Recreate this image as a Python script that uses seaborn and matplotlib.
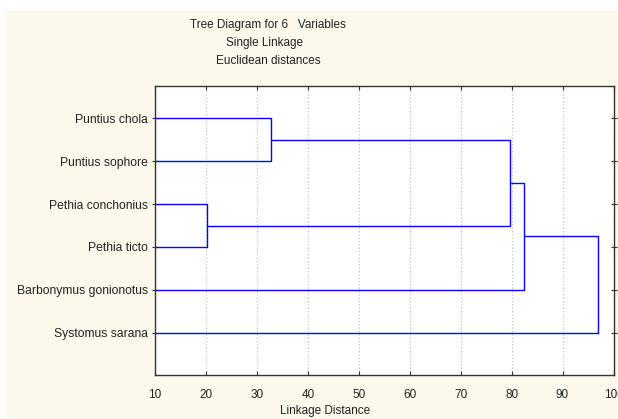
import numpy as np
import pandas as pd
import matplotlib
matplotlib.use("Agg")
import matplotlib.pyplot as plt
import seaborn as sns

# ---- data ----
labels = ["Puntius chola", "Puntius sophore", "Pethia conchonius",
          "Pethia ticto", "Barbonymus gonionotus", "Systomus sarana"]
merge_left = [0, 2, 6, 8, 9]      # cluster ids (leaves 0-5, new clusters 6..)
merge_right = [1, 3, 7, 4, 5]
merge_dist = [32.8, 20.3, 79.7, 82.4, 96.9]
x_ticks = [10, 20, 30, 40, 50, 60, 70, 80, 90, 100]
leaf_start = 10

# ---- build dendrogram segments from linkage ----
pos = {i: float(i) for i in range(len(labels))}
height = {i: leaf_start for i in range(len(labels))}
rows = []
uid = 0
for k, (a, b, d) in enumerate(zip(merge_left, merge_right, merge_dist)):
    new = len(labels) + k
    for (xx, yy) in [(height[a], pos[a]), (d, pos[a]), (d, pos[b]), (height[b], pos[b])]:
        rows.append({"dist": xx, "row": yy, "seg": uid, "order": len(rows)})
    uid += 1
    pos[new] = (pos[a] + pos[b]) / 2
    height[new] = d
df = pd.DataFrame(rows)

sns.set_theme(style="white")
plt.rcParams["font.family"] = ["Liberation Sans", "DejaVu Sans"]

fig = plt.figure(figsize=(6.18, 4.19), dpi=100)
fig.patch.set_facecolor("white")
fig.patches.append(plt.Rectangle((7 / 618, 0), 1, (419 - 11) / 419,
                                 transform=fig.transFigure, facecolor="#fdf8ec",
                                 edgecolor="none", zorder=-10))
ax = fig.add_axes([155 / 618, 44 / 419, (613.5 - 155) / 618, (375 - 86) / 419])
ax.set_facecolor("white")

sns.lineplot(data=df, x="dist", y="row", units="seg", estimator=None, sort=False,
             color="#0000ff", linewidth=1.0, ax=ax, legend=False)

ax.set_xlim(10, 100)
ax.set_ylim(5 + 0.986, -0.753)
ax.set_xticks(x_ticks)
ax.set_xticklabels([str(t) for t in x_ticks], fontsize=8.5, color="#222222")
ax.set_yticks(range(len(labels)))
ax.set_yticklabels(labels, fontsize=8.7, color="#222222")
ax.set_xlabel("")
ax.set_ylabel("")
ax.xaxis.grid(True, linestyle=(0, (1, 2)), color="#bbbbbb", linewidth=0.8)
ax.yaxis.grid(False)
for s in ax.spines.values():
    s.set_color("#333333")
    s.set_linewidth(1.0)
    s.set_visible(True)
ax.tick_params(axis="x", which="both", direction="in", length=3, width=0.8,
               color="#333333", bottom=True, top=True, pad=10)
ax.tick_params(axis="y", which="both", direction="inout", length=4, width=0.8,
               color="#333333", left=True, right=True, pad=3)

fig.text(325 / 618, 1 - 411 / 419, "Linkage Distance", ha="center",
         va="center", fontsize=8.5, color="#222222")
fig.text(268 / 618, 1 - 25 / 419, "Tree Diagram for 6   Variables", ha="center",
         va="center", fontsize=8.5, color="#222222")
fig.text(264 / 618, 1 - 43 / 419, "Single Linkage", ha="center",
         va="center", fontsize=8.5, color="#222222")
fig.text(268 / 618, 1 - 61 / 419, "Euclidean distances", ha="center",
         va="center", fontsize=8.5, color="#222222")

fig.savefig("out.png", dpi=100)
